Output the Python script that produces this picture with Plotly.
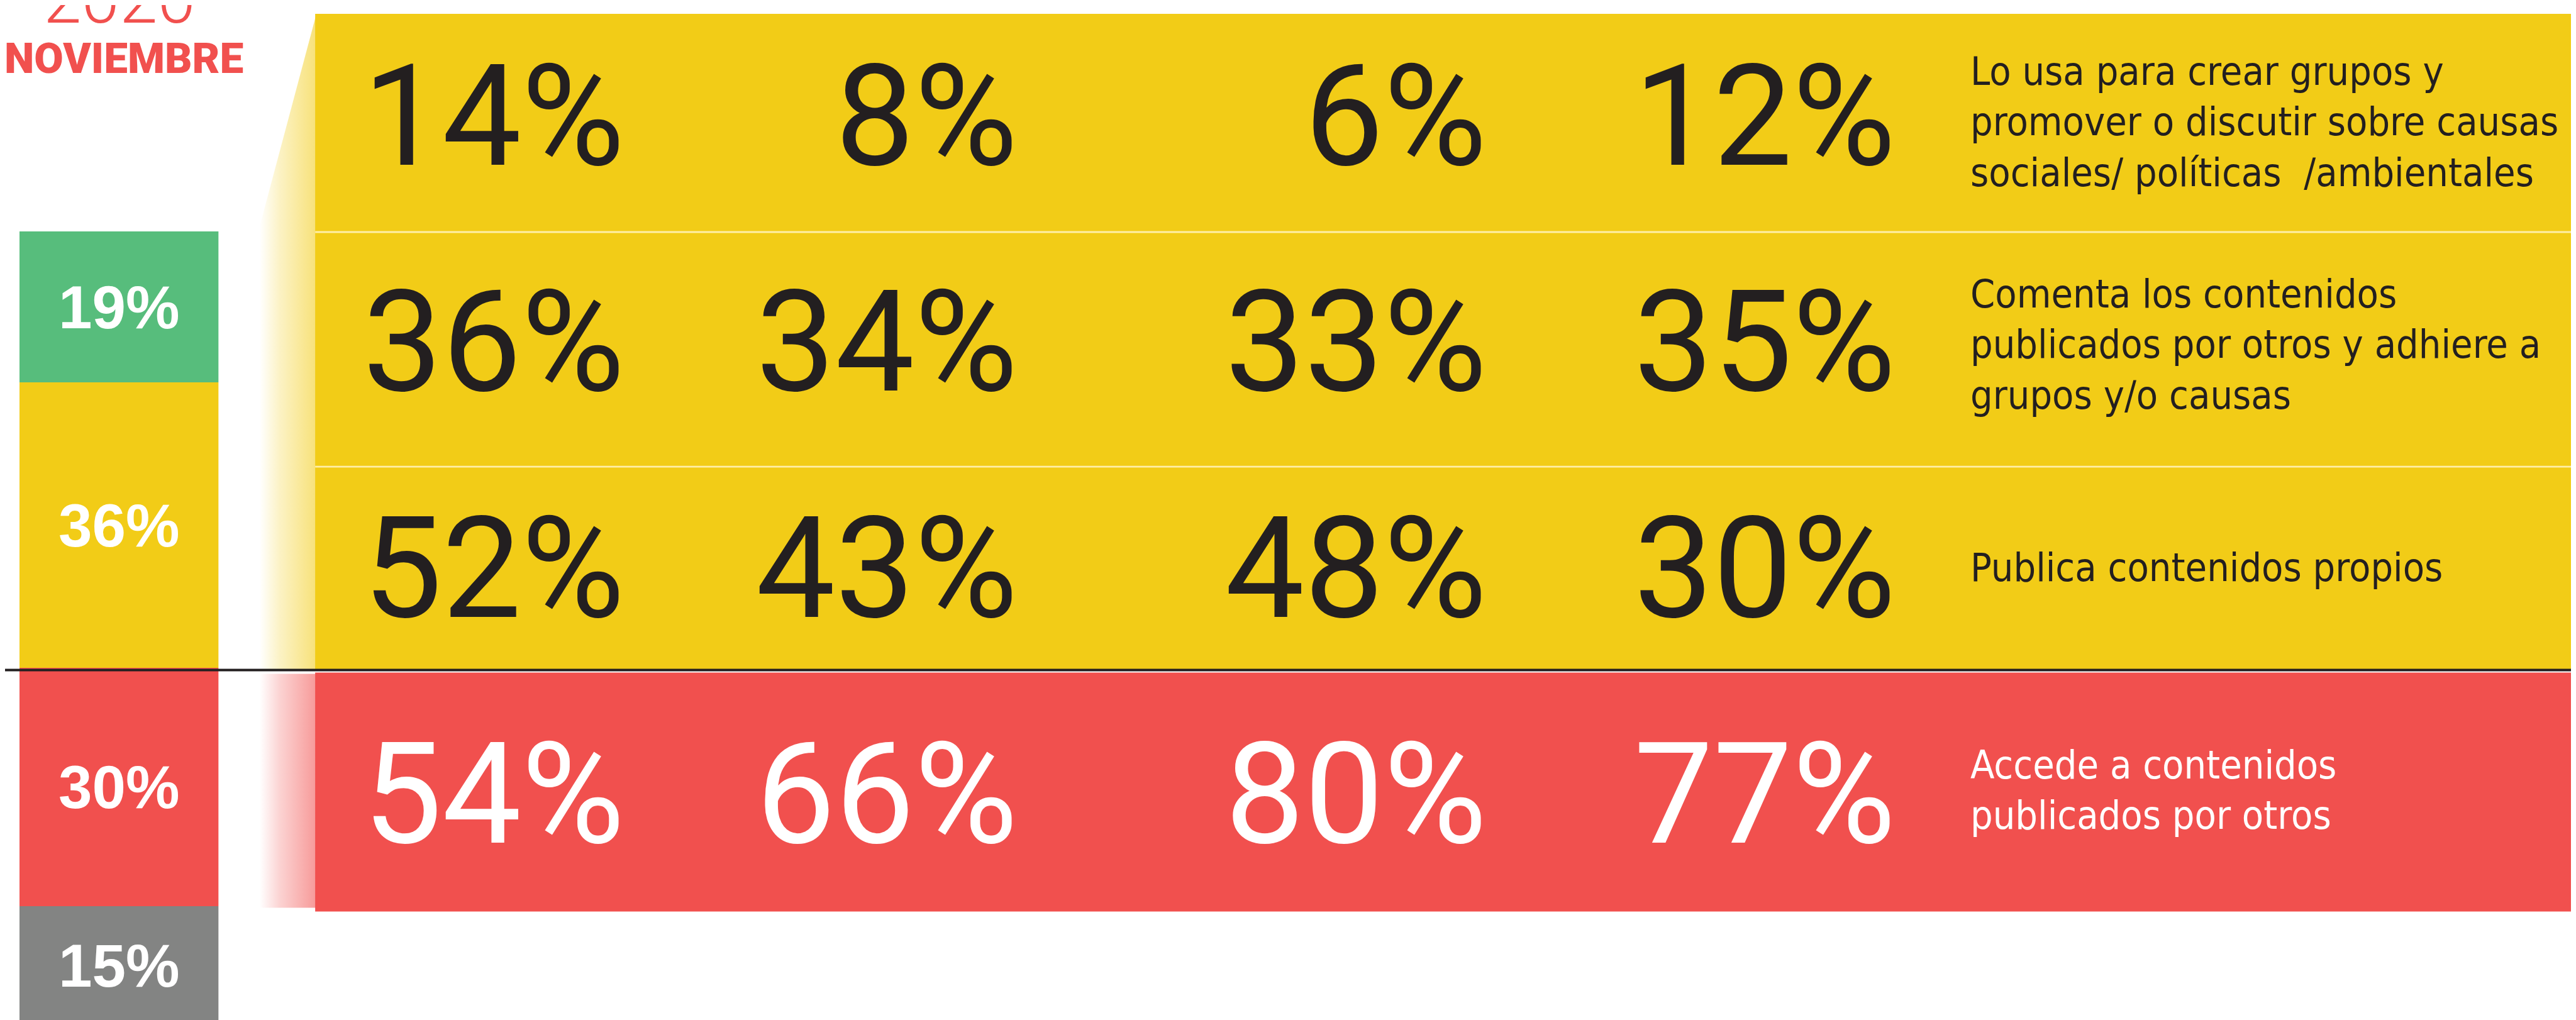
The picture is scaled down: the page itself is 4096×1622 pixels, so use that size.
import plotly.graph_objects as go

# ---------------- data ----------------
resumen_valores = [15, 30, 36, 19]          # left stacked bar, bottom -> top (%)
resumen_colores = ["#838483", "#F1504E", "#F2CC17", "#57BD7C"]

fila_grupos = [14, 8, 6, 12]                 # row 1
fila_comenta = [36, 34, 33, 35]              # row 2
fila_publica = [52, 43, 48, 30]              # row 3
fila_accede = [54, 66, 80, 77]               # row 4

etiquetas = [
    ["Lo usa para crear grupos y", "promover o discutir sobre causas",
     "sociales/ políticas \u00a0/ambientales"],
    ["Comenta los contenidos", "publicados por otros y adhiere a", "grupos y/o causas"],
    ["Publica contenidos propios"],
    ["Accede a contenidos", "publicados por otros"],
]
titulo_anio = "2020"
titulo_mes = "NOVIEMBRE"

# ---------------- layout constants (reference pixel space) ----------------
W_REF, H_REF = 4128, 1635
S = 0.992
FIG_W, FIG_H = 4096, 1622

YELLOW = "#F2CC17"
RED = "#F1504E"
DARK = "#231F20"
NUMFONT = "Roboto, DejaVu Sans Condensed, sans-serif"
LBLFONT = "DejaVu Sans Condensed, Roboto, sans-serif"
SANS = "Liberation Sans, Arial, sans-serif"

PANEL_X0 = 497
COL_RIGHT = [995, 1625, 2376, 3031]
NUM_CAPMID = [179, 541, 904, 1266]
NUM_SIZE = 226
LABEL_X = 3147
LABEL_SIZE = 63
LABEL_CAPMID = [[106, 187, 269], [463, 544, 625], [902], [1218, 1299]]

filas = [fila_grupos, fila_comenta, fila_publica, fila_accede]
colores_num = [DARK, DARK, DARK, "white"]
colores_lbl = [DARK, DARK, DARK, "white"]

fig = go.Figure()

# gradient "zoom" connectors
fig.add_trace(go.Scatter(
    x=[408, 499, 499, 408, 408], y=[355, 14, 1066, 1066, 355],
    mode="lines", line=dict(width=0), fill="toself",
    fillgradient=dict(type="horizontal",
                      colorscale=[[0, "rgba(242,204,23,0)"], [0.35, "rgba(242,204,23,0.25)"],
                                  [1, "rgba(242,204,23,0.58)"]]),
    hoverinfo="skip", showlegend=False))
fig.add_trace(go.Scatter(
    x=[408, 499, 499, 408, 408], y=[1072, 1072, 1447, 1447, 1072],
    mode="lines", line=dict(width=0), fill="toself",
    fillgradient=dict(type="horizontal",
                      colorscale=[[0, "rgba(241,80,78,0)"], [0.35, "rgba(241,80,78,0.25)"],
                                  [1, "rgba(241,80,78,0.58)"]]),
    hoverinfo="skip", showlegend=False))

# left stacked bar
for v, c in zip(resumen_valores, resumen_colores):
    fig.add_trace(go.Bar(
        x=[0], y=[v], width=[1], marker=dict(color=c, line=dict(width=0)),
        text=[f"{v}%"], textposition="inside", insidetextanchor="middle", textangle=0,
        textfont=dict(family=SANS, size=97 * S, color="white", weight="bold"),
        xaxis="x2", yaxis="y2", hoverinfo="skip", showlegend=False))

shapes = [
    dict(type="rect", xref="x", yref="y", x0=PANEL_X0, x1=W_REF, y0=14, y1=1067,
         fillcolor=YELLOW, line=dict(width=0), layer="below"),
    dict(type="rect", xref="x", yref="y", x0=PANEL_X0, x1=W_REF, y0=1070, y1=1453,
         fillcolor=RED, line=dict(width=0), layer="below"),
    dict(type="line", xref="x", yref="y", x0=PANEL_X0, x1=W_REF, y0=364, y1=364,
         line=dict(color="rgba(255,240,175,0.95)", width=3 * S), layer="above"),
    dict(type="line", xref="x", yref="y", x0=PANEL_X0, x1=W_REF, y0=740, y1=740,
         line=dict(color="rgba(255,240,175,0.95)", width=3 * S), layer="above"),
    dict(type="line", xref="x", yref="y", x0=0, x1=W_REF, y0=1066, y1=1066,
         line=dict(color=DARK, width=4 * S), layer="above"),
]

annotations = []
# big numbers
for i, fila in enumerate(filas):
    for j, v in enumerate(fila):
        annotations.append(dict(
            x=COL_RIGHT[j], y=NUM_CAPMID[i], xref="x", yref="y",
            text=f"{v}%", showarrow=False, xanchor="right", yanchor="middle",
            font=dict(family=NUMFONT, size=NUM_SIZE * S, color=colores_num[i], weight=400)))
# row labels
for i, lineas in enumerate(etiquetas):
    for k, t in enumerate(lineas):
        annotations.append(dict(
            x=LABEL_X, y=LABEL_CAPMID[i][k], xref="x", yref="y",
            text=t, showarrow=False, xanchor="left", yanchor="middle",
            font=dict(family=LBLFONT, size=LABEL_SIZE * S, color=colores_lbl[i])))
# header (paper coordinates so it may sit partly above the top edge, as in the original)
annotations.append(dict(x=183 / W_REF, y=1 - (29 - 0.3465 * 110) / H_REF,
                        xref="paper", yref="paper", text=titulo_anio,
                        showarrow=False, xanchor="center", yanchor="middle",
                        font=dict(family="Roboto, sans-serif", size=110 * S, color=RED,
                                  weight=300)))
annotations.append(dict(x=190 / W_REF, y=1 - 85 / H_REF, xref="paper", yref="paper",
                        text=titulo_mes, showarrow=False, xanchor="center", yanchor="middle",
                        font=dict(family="Roboto, sans-serif", size=68 * S, color=RED,
                                  weight=900)))

fig.update_layout(
    width=FIG_W, height=FIG_H, autosize=False,
    margin=dict(l=0, r=0, t=0, b=0, pad=0),
    paper_bgcolor="white", plot_bgcolor="rgba(0,0,0,0)",
    barmode="stack", bargap=0, showlegend=False,
    xaxis=dict(range=[0, W_REF], domain=[0, 1], visible=False, fixedrange=True),
    yaxis=dict(range=[H_REF, 0], domain=[0, 1], visible=False, fixedrange=True),
    xaxis2=dict(range=[-0.5, 0.5], domain=[23 / W_REF, 342 / W_REF], anchor="y2",
                visible=False, fixedrange=True),
    yaxis2=dict(range=[0, 100], domain=[0, 1 - 363 / H_REF], anchor="x2",
                visible=False, fixedrange=True),
    shapes=shapes, annotations=annotations,
)

fig.write_html("out.html")
